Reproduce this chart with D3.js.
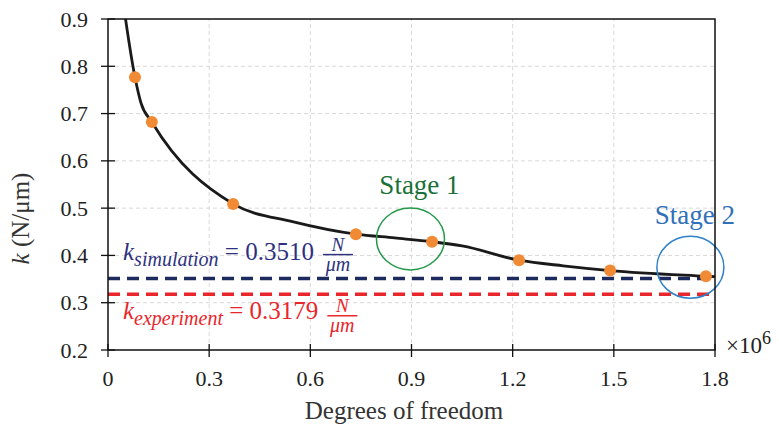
<!DOCTYPE html>
<html>
<head>
<meta charset="utf-8">
<script src="https://cdn.jsdelivr.net/npm/d3@7"></script>
<style>
  body { margin: 0; background: #fff; }
</style>
</head>
<body>
<div id="chart"></div>
<script>
// mesh sizes (x 10^6 degrees of freedom) and stiffness k (N/um)
const dofs = [0.080, 0.130, 0.371, 0.735, 0.961, 1.219, 1.489, 1.773]
const kValues = [0.777, 0.682, 0.509, 0.445, 0.429, 0.390, 0.368, 0.356]

// smooth trend line
const curveDofs = [0.040, 0.080, 0.098, 0.130, 0.371, 0.550, 0.735, 0.850, 0.961, 1.050, 1.219, 1.350, 1.489, 1.773, 1.800]
const curveK = [0.960, 0.777, 0.722, 0.682, 0.509, 0.471, 0.445, 0.437, 0.429, 0.420, 0.390, 0.378, 0.368, 0.356, 0.355]

const kSim = 0.3510
const kExp = 0.3179

const xTicks = [0, 0.3, 0.6, 0.9, 1.2, 1.5, 1.8]
const yTicks = [0.2, 0.3, 0.4, 0.5, 0.6, 0.7, 0.8, 0.9]

// stage annotations: centre in data units
const stageNames = ['Stage 1', 'Stage 2']
const stageDofs = [0.897, 1.727]
const stageK = [0.435, 0.375]

const width = 779
const height = 427
const margin = {top: 19, right: 64, bottom: 77, left: 108}

const svg = d3.select('#chart')
    .append('svg')
    .attr('width', width)
    .attr('height', height)
    .attr('font-family', "'Liberation Serif', 'Times New Roman', Times, serif")

const x = d3.scaleLinear()
    .domain([0, 1.8])
    .range([margin.left, width - margin.right])
const y = d3.scaleLinear()
    .domain([0.2, 0.9])
    .range([height - margin.bottom, margin.top])

const x0 = x(0), x1 = x(1.8), y0 = y(0.2), y1 = y(0.9)

// grid
const grid = svg.append('g')
    .attr('stroke', '#d9d9d9')
    .attr('stroke-width', 1)
    .attr('stroke-dasharray', '4,3')
grid.selectAll('.vg')
    .data(xTicks.slice(1, -1))
    .enter()
    .append('line')
    .attr('x1', d => x(d)).attr('x2', d => x(d))
    .attr('y1', y0).attr('y2', y1)
grid.selectAll('.hg')
    .data(yTicks.slice(1, -1))
    .enter()
    .append('line')
    .attr('x1', x0).attr('x2', x1)
    .attr('y1', d => y(d)).attr('y2', d => y(d))

// reference lines
svg.append('line')
    .attr('x1', x0).attr('x2', x1)
    .attr('y1', y(kSim)).attr('y2', y(kSim))
    .attr('stroke', '#1d2a5e')
    .attr('stroke-width', 3.5)
    .attr('stroke-dasharray', '12,7')
svg.append('line')
    .attr('x1', x0).attr('x2', x1)
    .attr('y1', y(kExp)).attr('y2', y(kExp))
    .attr('stroke', '#e8262b')
    .attr('stroke-width', 3.5)
    .attr('stroke-dasharray', '12,7')

// trend curve, clipped to plot area
svg.append('clipPath')
    .attr('id', 'plot-clip')
    .append('rect')
    .attr('x', x0).attr('y', y1)
    .attr('width', x1 - x0).attr('height', y0 - y1)

const line = d3.line()
    .x(d => x(d[0]))
    .y(d => y(d[1]))
    .curve(d3.curveMonotoneX)

svg.append('path')
    .datum(curveDofs.map((d, i) => [d, curveK[i]]))
    .attr('clip-path', 'url(#plot-clip)')
    .attr('d', line)
    .attr('fill', 'none')
    .attr('stroke', '#1a1a1a')
    .attr('stroke-width', 2.8)

svg.selectAll('.pt')
    .data(dofs)
    .enter()
    .append('circle')
    .attr('cx', d => x(d))
    .attr('cy', (d, i) => y(kValues[i]))
    .attr('r', 6)
    .attr('fill', '#f08a35')

// stage circles + labels
const stageColors = ['#23994a', '#2f80c8']
const stageTextColors = ['#1a7038', '#3070b8']
const stageR = [[34, 31], [33.5, 31]]
const stageLabelOffset = [[9, -45], [4.5, -43]]
stageNames.forEach((name, i) => {
    svg.append('ellipse')
        .attr('cx', x(stageDofs[i]))
        .attr('cy', y(stageK[i]))
        .attr('rx', stageR[i][0])
        .attr('ry', stageR[i][1])
        .attr('fill', 'none')
        .attr('stroke', stageColors[i])
        .attr('stroke-width', 1.5)
    svg.append('text')
        .attr('x', x(stageDofs[i]) + stageLabelOffset[i][0])
        .attr('y', y(stageK[i]) + stageLabelOffset[i][1])
        .attr('text-anchor', 'middle')
        .attr('fill', stageTextColors[i])
        .style('font-size', '27px')
        .text(name)
})

// k labels with subscript and N/um fraction
function kLabel(sub, value, color, baseline, fracBar) {
    const t = svg.append('text')
        .attr('x', x0 + 15)
        .attr('y', baseline)
        .attr('fill', color)
        .style('font-size', '25px')
    t.append('tspan').style('font-style', 'italic').text('k')
    t.append('tspan').style('font-style', 'italic').style('font-size', '20px')
        .attr('dy', 6).text(sub)
    t.append('tspan').attr('dy', -6).text(' = ' + value.toFixed(4))
    const fx = x0 + 15 + t.node().getComputedTextLength() + 9
    svg.append('line')
        .attr('x1', fx).attr('x2', fx + 30)
        .attr('y1', fracBar).attr('y2', fracBar)
        .attr('stroke', color).attr('stroke-width', 1.5)
    svg.append('text')
        .attr('x', fx + 15).attr('y', fracBar - 4)
        .attr('text-anchor', 'middle')
        .attr('fill', color)
        .style('font-size', '19px').style('font-style', 'italic')
        .text('N')
    svg.append('text')
        .attr('x', fx + 15).attr('y', fracBar + 16)
        .attr('text-anchor', 'middle')
        .attr('fill', color)
        .style('font-size', '20px').style('font-style', 'italic')
        .text('\u03bcm')
}
kLabel('simulation', kSim, '#2e3180', y(kSim) - 18.5, y(kSim) - 24)
kLabel('experiment', kExp, '#e8262b', y(kExp) + 25, y(kExp) + 21.5)

// frame
svg.append('path')
    .attr('d', `M${x0},${y0}H${x1}V${y1}H${x0}Z`)
    .attr('fill', 'none')
    .attr('stroke', '#111')
    .attr('stroke-width', 1.5)

// ticks crossing the axes
svg.selectAll('.xt')
    .data(xTicks)
    .enter()
    .append('line')
    .attr('x1', d => x(d)).attr('x2', d => x(d))
    .attr('y1', y0 - 6).attr('y2', y0 + 7)
    .attr('stroke', '#111').attr('stroke-width', 1.3)
svg.selectAll('.yt')
    .data(yTicks)
    .enter()
    .append('line')
    .attr('x1', x0 - 7).attr('x2', x0 + 7)
    .attr('y1', d => y(d)).attr('y2', d => y(d))
    .attr('stroke', '#111').attr('stroke-width', 1.3)

svg.selectAll('.xl')
    .data(xTicks)
    .enter()
    .append('text')
    .attr('x', d => x(d))
    .attr('y', y0 + 36)
    .attr('text-anchor', 'middle')
    .attr('fill', '#222')
    .style('font-size', '22px')
    .text(d => d === 0 ? '0' : d.toFixed(1))
svg.selectAll('.yl')
    .data(yTicks)
    .enter()
    .append('text')
    .attr('x', x0 - 20)
    .attr('y', d => y(d) + 7.5)
    .attr('text-anchor', 'end')
    .attr('fill', '#222')
    .style('font-size', '22px')
    .text(d => d.toFixed(1))

// x10^6 exponent
const ex = svg.append('text')
    .attr('x', x1 + 11)
    .attr('y', y0 + 3)
    .attr('fill', '#222')
    .style('font-size', '23px')
ex.append('tspan').text('\u00d710')
ex.append('tspan').attr('dy', -9).style('font-size', '18px').text('6')

// axis titles
svg.append('text')
    .attr('x', (x0 + x1) / 2 - 7.5)
    .attr('y', y0 + 69)
    .attr('text-anchor', 'middle')
    .attr('fill', '#333')
    .style('font-size', '25px')
    .text('Degrees of freedom')

const yt = svg.append('text')
    .attr('transform', `translate(29,${(y0 + y1) / 2 + 34}) rotate(-90)`)
    .attr('text-anchor', 'middle')
    .attr('fill', '#333')
    .style('font-size', '25px')
yt.append('tspan').style('font-style', 'italic').text('k')
yt.append('tspan').text(' (N/\u03bcm)')
</script>
</body>
</html>
